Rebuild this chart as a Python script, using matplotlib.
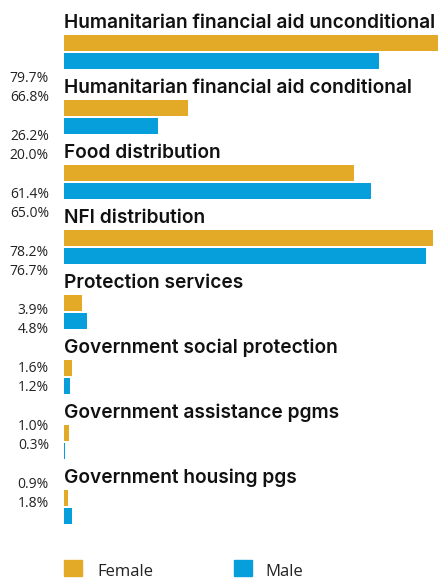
import numpy as np
import matplotlib
matplotlib.use("Agg")
import matplotlib.pyplot as plt
from matplotlib.patches import Rectangle

categories = [
    "Humanitarian financial aid unconditional",
    "Humanitarian financial aid conditional",
    "Food distribution",
    "NFI distribution",
    "Protection services",
    "Government social protection",
    "Government assistance pgms",
    "Government housing pgs",
]
female = [79.7, 26.2, 61.4, 78.2, 3.9, 1.6, 1.0, 0.9]
male = [66.8, 20.0, 65.0, 76.7, 4.8, 1.2, 0.3, 1.8]
series_names = ["Female", "Male"]

GOLD = "#E2AA27"
BLUE = "#069EDB"

W, H = 438, 580
fig = plt.figure(figsize=(W / 100, H / 100), dpi=100)

# bar panel: one unit on the y axis per category block
ax = fig.add_axes([64 / W, 0, 1 - 64 / W, 1])
ax.set_xlim(0, 374 / 4.72)
ax.set_ylim((H - 52) / 65, -52 / 65)
ax.axis("off")

y = np.arange(len(categories))
bh = 16 / 65
ax.barh(y - 9 / 65, female, height=bh, color=GOLD)
ax.barh(y + 9 / 65, male, height=bh, color=BLUE)

for i, cat in enumerate(categories):
    ax.text(0, i - 24 / 65, cat, ha="left", va="baseline",
            fontsize=13.75, fontweight="semibold", family="Inter", color="#111111")

# value column on the left
lab = fig.add_axes([0, 0, 64 / W, 1])
lab.set_xlim(0, 64)
lab.set_ylim((H - 82) / 58, -82 / 58)
lab.axis("off")
for i, (f, m) in enumerate(zip(female, male)):
    lab.text(49, i, f"{f:.1f}%", ha="right", va="baseline",
             fontsize=10, family="Open Sans", color="#222222")
    lab.text(49, i + 19.2 / 58, f"{m:.1f}%", ha="right", va="baseline",
             fontsize=10, family="Open Sans", color="#222222")

# legend row
for x0, col, name, tx in [(64, GOLD, series_names[0], 97), (234, BLUE, series_names[1], 265)]:
    fig.patches.append(Rectangle((x0 / W, 4 / H), 18 / W, 16 / H, transform=fig.transFigure,
                                 color=col, figure=fig))
    fig.text(tx / W, 4 / H, name, ha="left", va="baseline",
             fontsize=12, family="Open Sans", color="#222222")

fig.savefig("out.png", dpi=100)
